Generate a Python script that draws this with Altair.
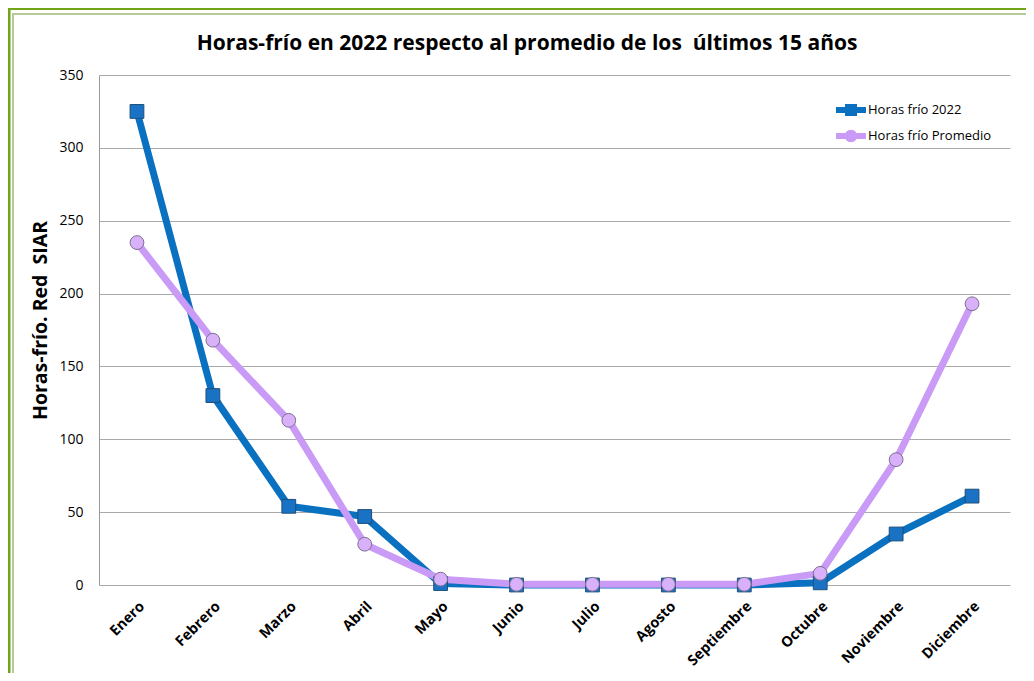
import altair as alt
import pandas as pd

meses = ["Enero", "Febrero", "Marzo", "Abril", "Mayo", "Junio", "Julio",
         "Agosto", "Septiembre", "Octubre", "Noviembre", "Diciembre"]
horas_2022 = [325, 130, 54, 47, 1, 0, 0, 0, 0, 1.5, 35, 61]
horas_promedio = [235, 168, 113, 28, 4, 0.5, 0.5, 0.5, 0.5, 8, 86, 193]
series = ["Horas frío 2022", "Horas frío Promedio"]
colores_linea = ["#0a70c0", "#c99af6"]
colores_marca = ["#1a72c4", "#d9b0fa"]
colores_borde = ["#1d4f7a", "#7d6f8c"]
y_ticks = [0, 50, 100, 150, 200, 250, 300, 350]
titulo = "Horas-frío en 2022 respecto al promedio de los\u00a0 últimos 15 años"
titulo_y = "Horas-frío. Red\u00a0 SIAR"

rows = []
for m, a, b in zip(meses, horas_2022, horas_promedio):
    rows.append({"mes": m, "serie": series[0], "valor": a})
    rows.append({"mes": m, "serie": series[1], "valor": b})
df = pd.DataFrame(rows)

FONT = "Open Sans"

x_enc = alt.X("mes:N", sort=meses, scale=alt.Scale(type="point", padding=0.5),
              axis=alt.Axis(title=None, labelAngle=-45, labelFontWeight="bold",
                            labelFontSize=14.5, labelColor="#000", labelFont=FONT,
                            domain=False, ticks=False, labelPadding=14,
                            grid=False))
y_enc = alt.Y("valor:Q", scale=alt.Scale(domain=[0, 350], nice=False),
              axis=alt.Axis(title=titulo_y, titleFontSize=19.5,
                            titleFontWeight="bold", titleFont=FONT, titleColor="#000",
                            titlePadding=8, titleY=245, values=y_ticks, labelFontSize=14,
                            labelFont=FONT, labelColor="#000", labelPadding=16,
                            domainColor="#999", domainWidth=1, ticks=False,
                            gridColor="#aaaaaa", gridWidth=1))

lines = alt.Chart(df).mark_line(strokeWidth=7, strokeJoin="round").encode(
    x=x_enc, y=y_enc,
    color=alt.Color("serie:N", scale=alt.Scale(domain=series, range=colores_linea), legend=None),
    detail="serie:N",
)

points = alt.Chart(df).mark_point(filled=True, opacity=1, size=190, strokeWidth=1).encode(
    x=x_enc, y=y_enc,
    fill=alt.Fill("serie:N", scale=alt.Scale(domain=series, range=colores_marca), legend=None),
    stroke=alt.Stroke("serie:N", scale=alt.Scale(domain=series, range=colores_borde), legend=None),
    shape=alt.Shape("serie:N", scale=alt.Scale(domain=series, range=["square", "circle"]), legend=None),
)

# legend symbols: a line with a marker on it
sq_path = "M-1.25,-0.25H1.25V0.25H-1.25Z M-0.5,-0.5H0.5V0.5H-0.5Z"
ci_path = "M-1.25,-0.25H1.25V0.25H-1.25Z M-0.52,0A0.52,0.52 0 1,1 0.52,0A0.52,0.52 0 1,1 -0.52,0Z"

leg = dict(title=None, orient="none", legendX=740, legendY=23,
           labelFont=FONT, labelFontSize=13, labelColor="#000",
           symbolSize=576, rowPadding=7, labelOffset=5, symbolStrokeWidth=0)

legend_layer = alt.Chart(df).mark_point(filled=True, opacity=1, strokeWidth=0).encode(
    x=x_enc, y=y_enc,
    color=alt.Color("serie:N", scale=alt.Scale(domain=series, range=colores_linea),
                    legend=alt.Legend(**leg)),
    shape=alt.Shape("serie:N", scale=alt.Scale(domain=series, range=[sq_path, ci_path]),
                    legend=alt.Legend(**leg)),
).transform_filter("false")

one = pd.DataFrame({"k": [0]})
title_mark = alt.Chart(one).mark_text(
    text=titulo, font=FONT, fontSize=21, fontWeight="bold", color="#000",
    align="center", baseline="alphabetic").encode(x=alt.value(428), y=alt.value(-25))

frame = alt.Chart(one).mark_rule(color="#6fa516", strokeWidth=3).encode(
    x=alt.value(-93), x2=alt.value(960), y=alt.value(-66.5))
frame_l = alt.Chart(one).mark_rule(color="#6fa516", strokeWidth=3).encode(
    x=alt.value(-90), y=alt.value(-68), y2=alt.value(700))
frame2 = alt.Chart(one).mark_rule(color="#b5c99a", strokeWidth=2).encode(
    x=alt.value(-86), x2=alt.value(960), y=alt.value(-61))
frame2_l = alt.Chart(one).mark_rule(color="#b5c99a", strokeWidth=2).encode(
    x=alt.value(-86), y=alt.value(-62), y2=alt.value(700))

chart = alt.layer(lines, points, legend_layer, title_mark,
                  frame, frame_l, frame2, frame2_l).resolve_scale(
    shape="independent", color="independent"
).properties(
    width=911, height=510,
    padding={"left": 91, "top": 67, "right": 16, "bottom": 88},
    autosize=alt.AutoSizeParams(type="none"),
).configure_view(stroke=None)

chart.save("out.html", embed_options={"renderer": "svg", "actions": False})
